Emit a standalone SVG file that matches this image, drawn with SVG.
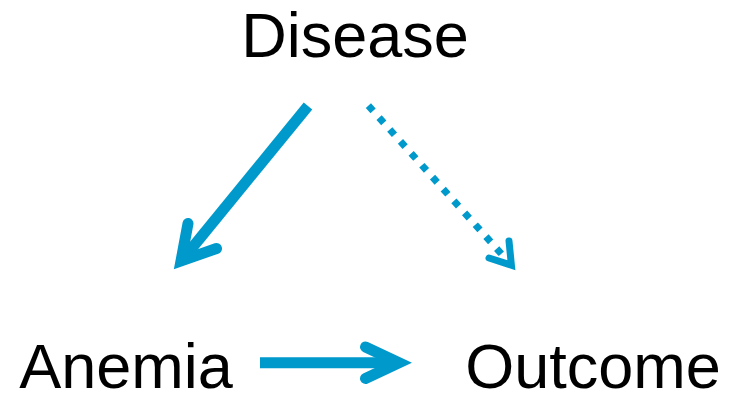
<svg xmlns="http://www.w3.org/2000/svg" width="730" height="395" viewBox="0 0 730 395">
<style>
.lbl{font-family:"Liberation Sans",Arial,sans-serif;font-size:63px;fill:#000;text-anchor:middle}
.ln{stroke:#0099CC;fill:none;stroke-linecap:butt}
.hd{stroke:#0099CC;fill:none;stroke-linecap:round;stroke-linejoin:miter;stroke-miterlimit:10}
</style>
<rect width="730" height="395" fill="#fff"/>
<g id="disease"><text class="lbl" x="355" y="57">Disease</text></g>
<g id="anemia"><text class="lbl" x="126" y="388">Anemia</text></g>
<g id="outcome"><text class="lbl" x="593" y="388">Outcome</text></g>
<g id="connectors">
  <g id="e1">
    <line class="ln" x1="308" y1="106" x2="183" y2="259" stroke-width="11"/>
    <polyline class="hd" points="188,223.5 181,261 216.5,248.5" stroke-width="11"/>
  </g>
  <g id="e2">
    <line class="ln" x1="368.4" y1="105.7" x2="502" y2="254.5" stroke-width="7" stroke-dasharray="7,9"/>
    <polyline class="hd" points="489,258 511.4,265.2 509,241" stroke-width="7"/>
  </g>
  <g id="e3">
    <line class="ln" x1="260" y1="362.7" x2="396" y2="362.7" stroke-width="11"/>
    <polyline class="hd" points="365.5,347 399,362.7 365.5,378.4" stroke-width="11"/>
  </g>
</g>
</svg>
